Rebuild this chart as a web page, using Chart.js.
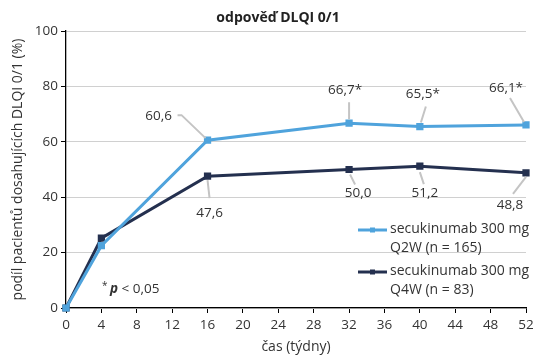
<!DOCTYPE html>
<html>
<head>
<meta charset="utf-8">
<script src="https://cdn.jsdelivr.net/npm/chart.js@4"></script>
<style>
  html, body { margin: 0; padding: 0; background: #fff; }
</style>
</head>
<body>
<canvas id="myChart" width="549" height="364"></canvas>
<script>
// weeks
const weeks = [0, 4, 16, 32, 40, 52];
const xTicks = [0, 4, 8, 12, 16, 20, 24, 28, 32, 36, 40, 44, 48, 52];
const yTicks = [0, 20, 40, 60, 80, 100];

// % patients with DLQI 0/1
const q2wValues = [0, 22.5, 60.6, 66.7, 65.5, 66.1];
const q4wValues = [0, 25.2, 47.6, 50.0, 51.2, 48.8];

// which points get a label, and whether it carries the asterisk
const q2wLabelled = [2, 3, 4, 5];
const q2wStar     = [false, true, true, true];
const q4wLabelled = [2, 3, 4, 5];

const FONT = "'Open Sans', 'Noto Sans', sans-serif";
const TEXT = '#333';
const LIGHT = '#4fa3dc';
const DARK  = '#24304f';

// label placement relative to point: text centre, leader line start/end
const q2wPlace = [
    { tx: -49, ty: -24, line: [[-30, -25], [-26, -25], [-2, -2]] },
    { tx: -4,  ty: -33, line: [[0, -21], [0, -4]] },
    { tx: 3,   ty: -32, line: [[6, -20], [1, -4]] },
    { tx: -20, ty: -37, line: [[-16, -27], [-2, -3]] }
];
const q4wPlace = [
    { tx: 2,   ty: 37, line: [[0, 4], [2, 22]] },
    { tx: 9,   ty: 24, line: [[1, 5], [6, 15]] },
    { tx: 5,   ty: 27, line: [[0, 6], [4, 18]] },
    { tx: -16, ty: 32, line: [[0, 4], [-13, 21]] }
];

const fmt = v => v.toFixed(1).replace('.', ',');

const annotations = {
    id: 'annotations',
    afterDatasetsDraw(chart) {
        const ctx = chart.ctx;
        const groups = [
            { ds: 0, idx: q2wLabelled, place: q2wPlace, vals: q2wValues, star: q2wStar },
            { ds: 1, idx: q4wLabelled, place: q4wPlace, vals: q4wValues, star: null }
        ];
        ctx.save();
        groups.forEach(g => {
            const meta = chart.getDatasetMeta(g.ds);
            g.idx.forEach((i, k) => {
                const p = meta.data[i];
                const pl = g.place[k];
                ctx.strokeStyle = '#c4c4c4';
                ctx.lineWidth = 2;
                ctx.beginPath();
                pl.line.forEach((pt, j) => {
                    if (j === 0) ctx.moveTo(p.x + pt[0], p.y + pt[1]);
                    else ctx.lineTo(p.x + pt[0], p.y + pt[1]);
                });
                ctx.stroke();
                ctx.fillStyle = TEXT;
                ctx.font = '13.5px ' + FONT;
                ctx.textAlign = 'center';
                ctx.textBaseline = 'middle';
                let txt = fmt(g.vals[i]) + (g.star && g.star[k] ? '*' : '');
                ctx.fillText(txt, p.x + pl.tx, p.y + pl.ty);
            });
        });

        // title
        ctx.font = 'bold 14px ' + FONT;
        ctx.fillStyle = '#222';
        ctx.textAlign = 'center';
        ctx.fillText('odpověď DLQI 0/1', 278, 18);

        // significance note
        const x0 = 102, y0 = 289;
        ctx.textAlign = 'left';
        ctx.font = '10px ' + FONT;
        ctx.fillStyle = TEXT;
        ctx.fillText('*', x0, y0 - 3);
        ctx.font = 'bold italic 13.5px ' + FONT;
        ctx.fillText('p', x0 + 8, y0);
        let w = ctx.measureText('p').width;
        ctx.font = '13.5px ' + FONT;
        ctx.fillText(' < 0,05', x0 + 8 + w, y0);

        // legend
        const legend = [
            { color: LIGHT, lines: ['secukinumab 300 mg', 'Q2W (n = 165)'], y: 230 },
            { color: DARK,  lines: ['secukinumab 300 mg', 'Q4W (n = 83)'],  y: 272 }
        ];
        legend.forEach(l => {
            ctx.strokeStyle = l.color;
            ctx.lineWidth = 3;
            ctx.beginPath();
            ctx.moveTo(358, l.y);
            ctx.lineTo(387, l.y);
            ctx.stroke();
            ctx.fillStyle = l.color;
            ctx.fillRect(370, l.y - 2.5, 5, 5);
            ctx.fillStyle = TEXT;
            ctx.font = '14px ' + FONT;
            ctx.fillText(l.lines[0], 390, l.y - 1);
            ctx.fillText(l.lines[1], 390, l.y + 18);
        });
        ctx.restore();
    }
};

const myChartRef = document.getElementById('myChart').getContext('2d');

new Chart(myChartRef, {
    type: 'line',
    data: {
        datasets: [
            {
                label: 'secukinumab 300 mg Q2W (n = 165)',
                data: weeks.map((w, i) => ({ x: w, y: q2wValues[i] })),
                borderColor: LIGHT,
                backgroundColor: LIGHT,
                borderWidth: 3,
                pointStyle: 'rect',
                pointRadius: 3,
                tension: 0,
                clip: false
            },
            {
                label: 'secukinumab 300 mg Q4W (n = 83)',
                data: weeks.map((w, i) => ({ x: w, y: q4wValues[i] })),
                borderColor: DARK,
                backgroundColor: DARK,
                borderWidth: 3,
                pointStyle: 'rect',
                pointRadius: 3,
                tension: 0,
                clip: false
            }
        ]
    },
    options: {
        responsive: false,
        animation: false,
        layout: { padding: { left: 0, right: 23, top: 31, bottom: 0 } },
        plugins: {
            legend: { display: false },
            tooltip: { enabled: false },
            title: { display: false }
        },
        scales: {
            x: {
                type: 'linear',
                min: 0,
                max: 52,
                afterBuildTicks: s => { s.ticks = xTicks.map(v => ({ value: v })); },
                afterFit: s => { s.height = 56; },
                grid: { drawOnChartArea: false, drawTicks: true, tickLength: 5, tickColor: '#000' },
                border: { color: '#000', width: 1.3 },
                ticks: { color: TEXT, font: { family: FONT, size: 13.5 }, padding: 4, autoSkip: false, maxRotation: 0 },
                title: {
                    display: true,
                    text: 'čas (týdny)',
                    color: TEXT,
                    font: { family: FONT, size: 14 },
                    padding: { top: 0, bottom: 9 }
                }
            },
            y: {
                min: 0,
                max: 100,
                afterBuildTicks: s => { s.ticks = yTicks.map(v => ({ value: v })); },
                afterFit: s => { s.width = 66; },
                grid: { color: '#d0d0d0', lineWidth: 1, tickLength: 5, tickColor: '#000' },
                border: { color: '#000', width: 1.3 },
                ticks: { color: TEXT, font: { family: FONT, size: 13.5 }, padding: 3 },
                title: {
                    display: true,
                    text: 'podíl pacientů dosahujících DLQI 0/1 (%)',
                    color: TEXT,
                    font: { family: FONT, size: 14 },
                    padding: { top: 10, bottom: 0 }
                }
            }
        }
    },
    plugins: [annotations]
});
</script>
</body>
</html>
